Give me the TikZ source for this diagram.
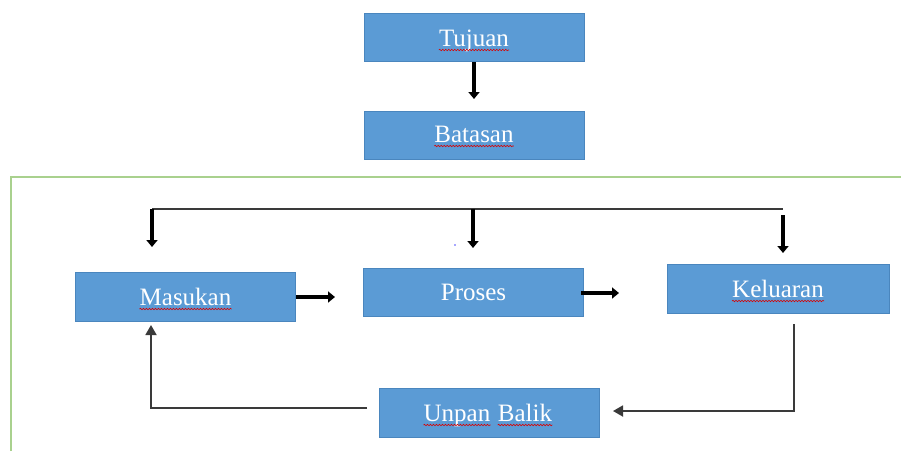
\documentclass[tikz,border=0pt]{standalone}
\usepackage{fontspec}
\setmainfont{Liberation Serif}
\usetikzlibrary{arrows.meta,decorations.pathmorphing}
\definecolor{boxblue}{HTML}{5B9BD5}
\definecolor{boxedge}{HTML}{4A86BE}
\definecolor{framegreen}{HTML}{A9D18E}
\definecolor{linegray}{HTML}{3A3A3A}
\tikzset{
  blockbox/.style={draw=boxedge, line width=1pt, fill=boxblue, minimum width=220pt, minimum height=48pt, inner sep=0pt},
  lbl/.style={text=white, font=\fontsize{25}{30}\selectfont, inner sep=0pt, anchor=base},
  thickarrow/.style={black, line width=4pt, -{Triangle[length=7pt,width=11pt]}},
  thinarrow/.style={linegray, line width=1.8pt, -{Triangle[length=10pt,width=11pt]}},
  thinline/.style={linegray, line width=1.8pt},
  squig/.style={red!85!black, line width=0.6pt, decorate, decoration={snake, amplitude=0.7pt, segment length=3pt}}
}
\begin{document}
\begin{tikzpicture}[x=1pt,y=-1pt]
\useasboundingbox (0,0) rectangle (901,451);
% green frame
\draw[framegreen, line width=1.5pt] (11,451) -- (11,177) -- (901,177);
% boxes
\node[blockbox] (tujuan) at (474,37.5) {};
\node[blockbox] (batasan) at (474,135) {};
\node[blockbox, minimum height=49pt] (masukan) at (185.5,296.5) {};
\node[blockbox] (proses) at (473.5,292) {};
\node[blockbox, minimum width=222pt, minimum height=49pt] (keluaran) at (778,288.5) {};
\node[blockbox, minimum height=49pt] (umpan) at (489,412.5) {};
% labels
\node[lbl] (ttujuan) at (474,46) {Tujuan};
\node[lbl] (tbatasan) at (474,142) {Batasan};
\node[lbl] (tmasukan) at (185.5,305) {Masukan};
\node[lbl] (tproses) at (473.5,300) {Proses};
\node[lbl] (tkeluaran) at (778,297) {Keluaran};
\node[lbl] (tumpan1) at (457,421) {Unpan};
\node[lbl] (tumpan2) at (525,421) {Balik};
% spelling underlines
\foreach \t in {ttujuan,tbatasan,tmasukan,tkeluaran,tumpan1,tumpan2}{
  \draw[squig] ([yshift=-4pt]\t.base west) -- ([yshift=-4pt]\t.base east);
}
% coordinates
\coordinate (a1) at (474,99);
\coordinate (tl) at (152,209);
\coordinate (tr) at (783,209);
\coordinate (tm) at (473,209);
\coordinate (l1) at (152,247);
\coordinate (m1) at (473,248);
\coordinate (r0) at (783,215);
\coordinate (r1) at (783,253);
\coordinate (mp) at (335,297);
\coordinate (pk0) at (581,293);
\coordinate (pk) at (619,293);
\coordinate (k0) at (794,324);
\coordinate (k1) at (794,411);
\coordinate (k2) at (613,411);
\coordinate (u0) at (367,408);
\coordinate (u1) at (151,408);
\coordinate (u2) at (151,325);
% connectors
\draw[thickarrow] (tujuan.south) -- (a1);
\draw[thinline] (tl) -- (tr);
\draw[thickarrow] (tl) -- (l1);
\draw[thickarrow] (tm) -- (m1);
\draw[thickarrow] (r0) -- (r1);
\draw[thickarrow] (masukan.east |- mp) -- (mp);
\draw[thickarrow] (pk0) -- (pk);
\draw[thinarrow] (k0) -- (k1) -- (k2);
\draw[thinarrow] (u0) -- (u1) -- (u2);
% stray dot
\fill[blue!70] (455,245) circle (0.9pt);
\end{tikzpicture}
\end{document}
